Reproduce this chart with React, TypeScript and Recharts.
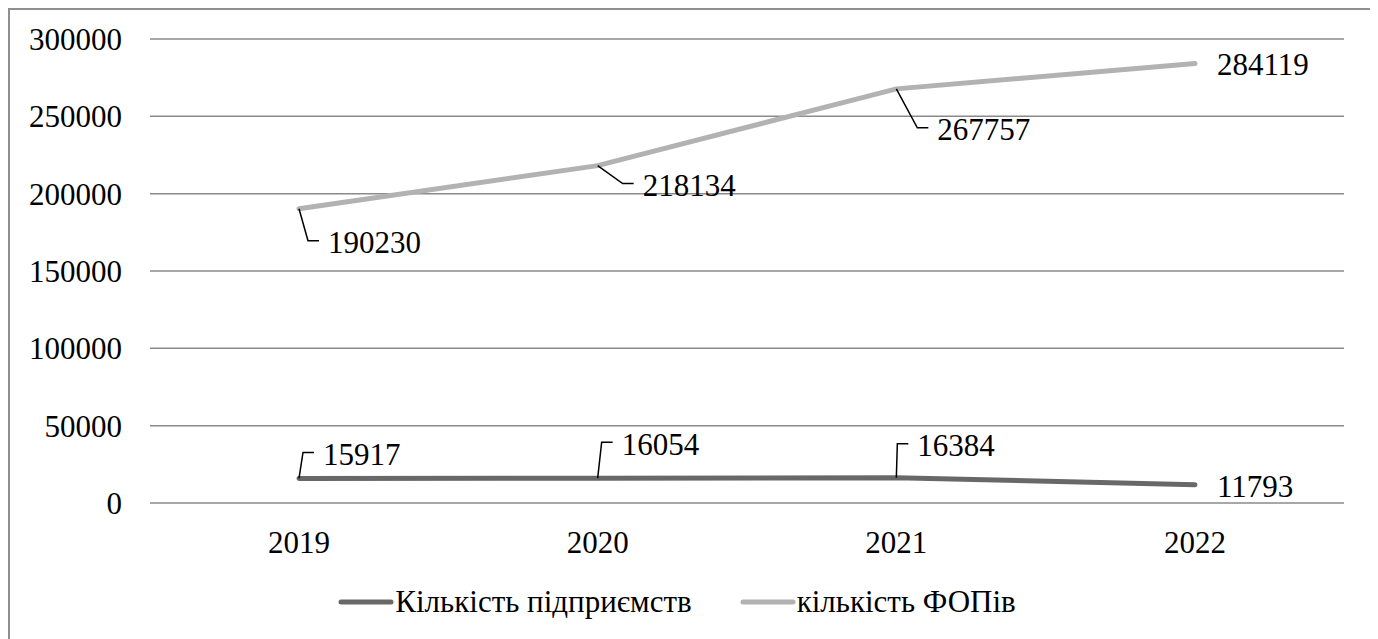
import { LineChart, Line, XAxis, YAxis, CartesianGrid, Legend, LabelList } from 'recharts'

const years = ['2019', '2020', '2021', '2022']
const enterprises = [15917, 16054, 16384, 11793]
const fops = [190230, 218134, 267757, 284119]
const yTicks = [0, 50000, 100000, 150000, 200000, 250000, 300000]

const ENT_NAME = 'Кількість підприємств'
const FOP_NAME = 'кількість ФОПів'
const ENT_COLOR = '#686868'
const FOP_COLOR = '#b2b2b2'

// where each data label sits relative to its point (null = label right of point, no leader)
const entLabelOffsets: ([number, number] | null)[] = [[4, -26], [4, -36], [1, -34], null]
const fopLabelOffsets: ([number, number] | null)[] = [[9, 32], [25, 18], [21, 39], null]

const FONT = 'Liberation Serif, DejaVu Serif, serif'
const FS = 31

const data = years.map((year, i) => ({ year, ent: enterprises[i], fop: fops[i] }))

const makeLabel = (offsets: ([number, number] | null)[]) => (props: any) => {
  const { x, y, value, index } = props
  const off = offsets[index]
  if (!off) {
    return (
      <text x={x + 22} y={y + 1} dy="0.35em" style={{ fontFamily: FONT }} fontSize={FS} fill="#000">
        {value}
      </text>
    )
  }
  const ex = x + off[0]
  const ey = y + off[1]
  return (
    <g>
      <polyline
        points={`${x},${y} ${ex},${ey} ${ex + 11},${ey}`}
        fill="none"
        stroke="#000"
        strokeWidth={1.5}
      />
      <text x={ex + 20} y={ey + 1.5} dy="0.35em" style={{ fontFamily: FONT }} fontSize={FS} fill="#000">
        {value}
      </text>
    </g>
  )
}

const renderLegend = (props: any) => {
  const { payload = [] } = props
  return (
    <div
      style={{
        display: 'flex',
        justifyContent: 'center',
        alignItems: 'center',
        height: 40,
        fontFamily: FONT,
        fontSize: FS,
        color: '#000',
      }}
    >
      {payload.map((p: any, i: number) => (
        <div key={p.value} style={{ display: 'flex', alignItems: 'center', marginLeft: i ? 48 : 0 }}>
          <svg width={56} height={10}>
            <line x1={3} y1={5} x2={53} y2={5} stroke={p.color} strokeWidth={5} strokeLinecap="round" />
          </svg>
          <span style={{ marginLeft: 1, lineHeight: '40px' }}>{p.value}</span>
        </div>
      ))}
    </div>
  )
}

export default function App() {
  return (
    <div
      style={{
        width: 1365,
        height: 640,
        border: '2px solid #8f8f8f',
        boxSizing: 'border-box',
        background: '#fff',
        fontFamily: FONT,
      }}
    >
      <LineChart
        width={1361}
        height={630}
        data={data}
        margin={{ top: 29, right: 27, bottom: 18, left: 0 }}
        style={{ fontFamily: FONT }}
      >
        <CartesianGrid vertical={false} stroke="#8a8a8a" strokeWidth={1.5} />
        <XAxis
          dataKey="year"
          scale="point"
          padding={{ left: 149, right: 149 }}
          axisLine={false}
          tickLine={false}
          tickMargin={22}
          height={79}
          tick={{ fontFamily: FONT, fontSize: FS, fill: '#000' }}
        />
        <YAxis
          domain={[0, 300000]}
          ticks={yTicks}
          axisLine={false}
          tickLine={false}
          tickMargin={22}
          width={140}
          tick={{ fontFamily: FONT, fontSize: FS, fill: '#000' }}
        />
        <Legend verticalAlign="bottom" align="center" content={renderLegend} />
        <Line
          type="linear"
          dataKey="ent"
          name={ENT_NAME}
          stroke={ENT_COLOR}
          strokeWidth={5}
          strokeLinecap="round"
          dot={false}
          isAnimationActive={false}
        >
          <LabelList dataKey="ent" content={makeLabel(entLabelOffsets)} />
        </Line>
        <Line
          type="linear"
          dataKey="fop"
          name={FOP_NAME}
          stroke={FOP_COLOR}
          strokeWidth={5}
          strokeLinecap="round"
          dot={false}
          isAnimationActive={false}
        >
          <LabelList dataKey="fop" content={makeLabel(fopLabelOffsets)} />
        </Line>
      </LineChart>
    </div>
  )
}
